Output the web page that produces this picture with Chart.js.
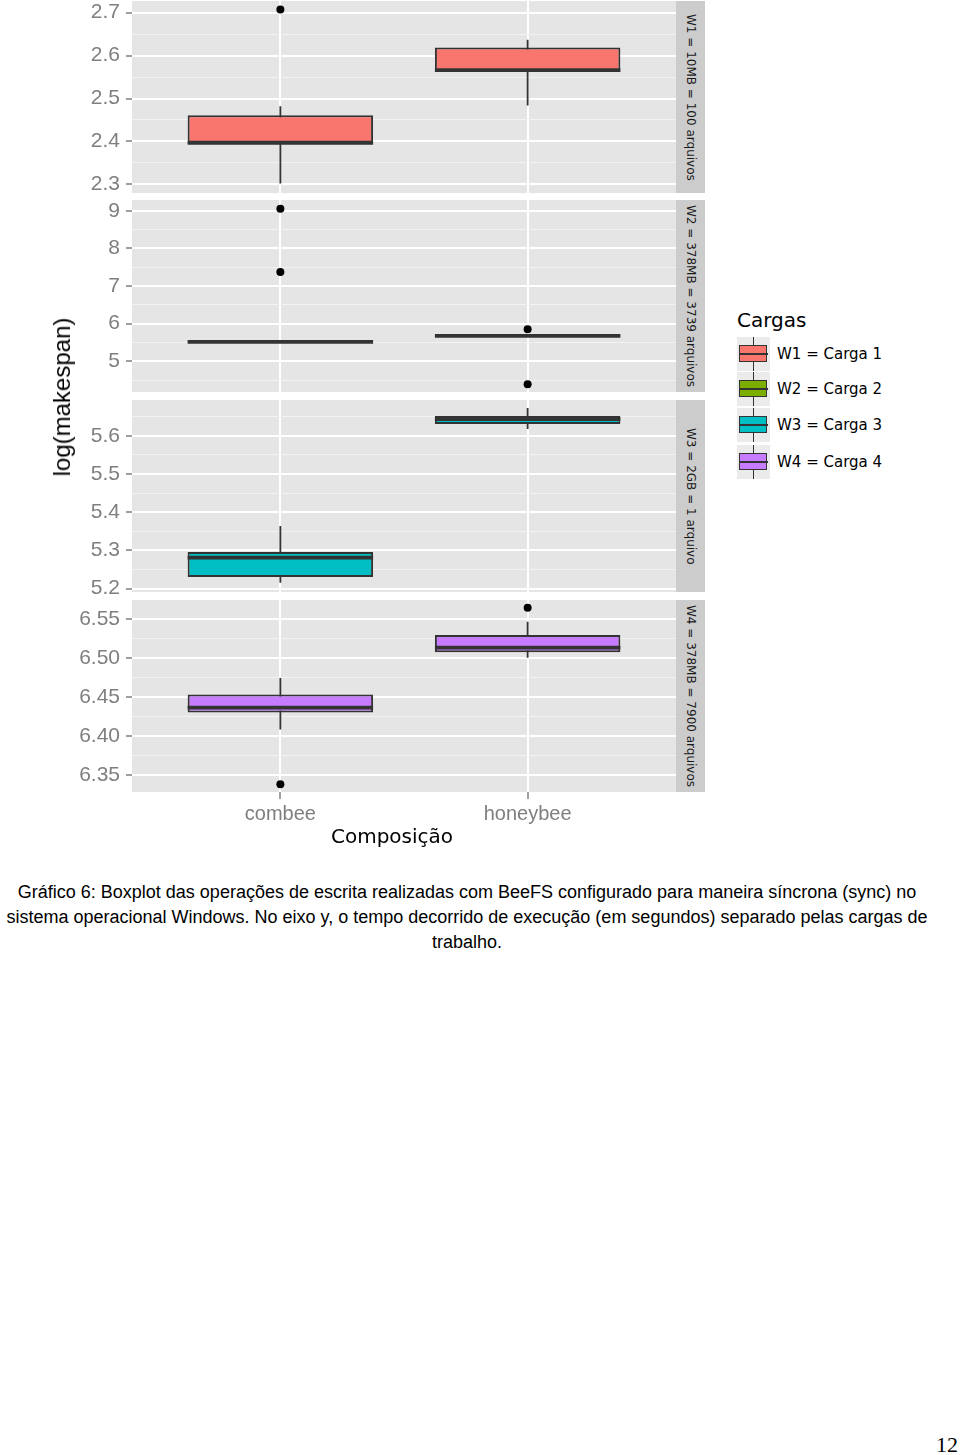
<!DOCTYPE html>
<html>
<head>
<meta charset="utf-8">
<script src="https://cdn.jsdelivr.net/npm/chart.js@4.4.0/dist/chart.umd.min.js"></script>
<style>
  body { margin: 0; width: 960px; height: 1455px; position: relative; overflow: hidden; background: #fff; font-family: "Liberation Sans", Arial, sans-serif; }
  canvas.facet { position: absolute; left: 60px; }
  .strip { position: absolute; left: 676px; width: 29px; height: 192px; background: #cccccc; color: #1a1a1a;
           font: 12px "DejaVu Sans"; writing-mode: vertical-rl; text-align: center; line-height: 29px; white-space: nowrap; }
  #ytitle { position: absolute; left: 62px; top: 397px; transform: translate(-50%, -50%) rotate(-90deg); font-size: 24px; white-space: nowrap; color: #000; }
  #xtitle { position: absolute; left: 392px; top: 836px; transform: translate(-50%, -50%); font: 20px "DejaVu Sans"; white-space: nowrap; color: #000; }
  #legend { position: absolute; left: 737px; top: 306px; font-family: "DejaVu Sans"; }
  #legend .title { font-size: 20px; height: 30px; line-height: 28px; }
  .key { position: absolute; left: 0; width: 33px; height: 34px; background: #ebebeb; }
  .key .wh { position: absolute; left: 15.5px; top: 0; width: 1.8px; height: 34px; background: #333; }
  .key .bx { position: absolute; left: 2px; top: 8px; width: 26px; height: 15px; border: 1.8px solid #333; }
  .key .md { position: absolute; left: 2px; top: 16px; width: 29px; height: 2px; background: #333; }
  .key-label { position: absolute; left: 40px; font-size: 15px; white-space: nowrap; color: #000; }
  #caption { position: absolute; left: 0; top: 880px; width: 934px; text-align: center; font-size: 18px; line-height: 25px; color: #000; white-space: nowrap; }
  #page { position: absolute; left: 936px; top: 1432px; font: 22px "Liberation Serif", serif; color: #000; }
</style>
</head>
<body>
<canvas class="facet" id="f0" width="616" height="232" style="top:-19px"></canvas>
<canvas class="facet" id="f1" width="616" height="232" style="top:180px"></canvas>
<canvas class="facet" id="f2" width="616" height="232" style="top:380px"></canvas>
<canvas class="facet" id="f3" width="616" height="246" style="top:580px"></canvas>
<div id="strips"></div>
<div id="ytitle">log(makespan)</div>
<div id="xtitle">Composição</div>
<div id="legend"><div class="title">Cargas</div></div>
<div id="caption">Gráfico 6: Boxplot das operações de escrita realizadas com BeeFS configurado para maneira síncrona (sync) no<br>sistema operacional Windows. No eixo y, o tempo decorrido de execução (em segundos) separado pelas cargas de<br>trabalho.</div>
<div id="page">12</div>
<script>
const categories = ['combee', 'honeybee'];
const facetNames = ['W1 = 10MB = 100 arquivos', 'W2 = 378MB = 3739 arquivos', 'W3 = 2GB = 1 arquivo', 'W4 = 378MB = 7900 arquivos'];
const legendLabels = ['W1 = Carga 1', 'W2 = Carga 2', 'W3 = Carga 3', 'W4 = Carga 4'];
const facetColors = ['#F8766D', '#7CAE00', '#00BFC4', '#C77CFF'];

// box statistics, one value per category [combee, honeybee]
const w1Lower = [2.302, 2.484];
const w1Q1 = [2.394, 2.562];
const w1Median = [2.397, 2.566];
const w1Q3 = [2.461, 2.619];
const w1Upper = [2.482, 2.637];
const w1Outliers = [[2.707], []];
const w1TickLabels = ['2.3', '2.4', '2.5', '2.6', '2.7'];
const w1Range = [2.280, 2.727];

const w2Lower = [5.496, 5.655];
const w2Q1 = [5.496, 5.655];
const w2Median = [5.514, 5.673];
const w2Q3 = [5.532, 5.691];
const w2Upper = [5.532, 5.691];
const w2Outliers = [[9.05, 7.37], [5.85, 4.39]];
const w2TickLabels = ['5', '6', '7', '8', '9'];
const w2Range = [4.183, 9.285];

const w3Lower = [5.215, 5.618];
const w3Q1 = [5.230, 5.631];
const w3Median = [5.281, 5.644];
const w3Q3 = [5.296, 5.652];
const w3Upper = [5.364, 5.673];
const w3Outliers = [[], []];
const w3TickLabels = ['5.2', '5.3', '5.4', '5.5', '5.6'];
const w3Range = [5.191, 5.694];

const w4Lower = [6.408, 6.500];
const w4Q1 = [6.430, 6.507];
const w4Median = [6.436, 6.513];
const w4Q3 = [6.453, 6.529];
const w4Upper = [6.474, 6.546];
const w4Outliers = [[6.338], [6.564]];
const w4TickLabels = ['6.35', '6.40', '6.45', '6.50', '6.55'];
const w4Range = [6.328, 6.574];

const facets = [
  { lower: w1Lower, q1: w1Q1, median: w1Median, q3: w1Q3, upper: w1Upper, outliers: w1Outliers, ticks: w1TickLabels, range: w1Range },
  { lower: w2Lower, q1: w2Q1, median: w2Median, q3: w2Q3, upper: w2Upper, outliers: w2Outliers, ticks: w2TickLabels, range: w2Range },
  { lower: w3Lower, q1: w3Q1, median: w3Median, q3: w3Q3, upper: w3Upper, outliers: w3Outliers, ticks: w3TickLabels, range: w3Range },
  { lower: w4Lower, q1: w4Q1, median: w4Median, q3: w4Q3, upper: w4Upper, outliers: w4Outliers, ticks: w4TickLabels, range: w4Range }
];

const boxWidth = 0.75;
const tickFont = { family: 'Liberation Sans', size: 21 };

const panelBackground = {
  id: 'panelBackground',
  beforeDraw(chart) {
    const { ctx, chartArea: a } = chart;
    ctx.save();
    ctx.fillStyle = '#e5e5e5';
    ctx.fillRect(a.left, a.top, a.width, a.height);
    ctx.restore();
  }
};

function buildFacet(canvas, f, color, isBottom) {
  const majors = f.ticks.map(parseFloat);
  const step = majors[1] - majors[0];
  const yTicks = majors.map((v, i) => ({ value: v, text: f.ticks[i] }));
  for (let i = -1; i < majors.length; i++) {
    const v = (i < 0 ? majors[0] : majors[i]) + (i < 0 ? -step / 2 : step / 2);
    if (v > f.range[0] && v < f.range[1]) yTicks.push({ value: v, minor: true });
  }
  yTicks.sort((a, b) => a.value - b.value);

  const whiskers = [], medians = [], boxes = [], outliers = [];
  categories.forEach((c, i) => {
    const x = i + 1;
    if (i > 0) { whiskers.push({ x: x - 0.5, y: null }); medians.push({ x: x - 0.5, y: null }); }
    whiskers.push({ x: x, y: f.lower[i] }, { x: x, y: f.upper[i] });
    medians.push({ x: x - boxWidth / 2, y: f.median[i] }, { x: x + boxWidth / 2, y: f.median[i] });
    boxes.push({ x: x, y: [f.q1[i], f.q3[i]] });
    f.outliers[i].forEach(v => outliers.push({ x: x, y: v }));
  });

  return new Chart(canvas, {
    type: 'bar',
    data: {
      datasets: [
        { type: 'line', data: whiskers, borderColor: '#333333', borderWidth: 1.8, pointRadius: 0, order: 3 },
        { type: 'bar', data: boxes, backgroundColor: color, borderColor: '#333333', borderWidth: 2,
          borderSkipped: false, barPercentage: boxWidth, categoryPercentage: 1, order: 2 },
        { type: 'line', data: medians, borderColor: '#333333', borderWidth: 3.8, pointRadius: 0, order: 1 },
        { type: 'scatter', data: outliers, backgroundColor: '#000000', borderWidth: 0, pointRadius: 4, order: 0 }
      ]
    },
    options: {
      responsive: false,
      animation: false,
      events: [],
      layout: { autoPadding: false, padding: { top: 20, bottom: isBottom ? 0 : 20, left: 0, right: 0 } },
      plugins: { legend: { display: false }, tooltip: { enabled: false } },
      scales: {
        x: {
          type: 'linear', min: 0.4, max: 2.6, offset: false, bounds: 'data',
          afterBuildTicks: s => { s.ticks = categories.map((c, i) => ({ value: i + 1 })); },
          afterFit: s => { if (isBottom) s.height = 34; },
          ticks: { display: isBottom, callback: v => categories[v - 1], color: '#7f7f7f', font: { family: 'Liberation Sans', size: 20 }, padding: 3, autoSkip: false, maxRotation: 0 },
          grid: { color: '#ffffff', lineWidth: 2, drawTicks: isBottom, tickLength: 7, tickColor: '#7f7f7f', tickWidth: 1.5, offset: false },
          border: { display: false }
        },
        y: {
          min: f.range[0], max: f.range[1], bounds: 'data', beginAtZero: false,
          afterBuildTicks: s => { s.ticks = yTicks.map(t => ({ ...t })); },
          afterFit: s => { s.width = 72; },
          ticks: { callback: (v, i, ts) => ts[i].minor ? '' : ts[i].text, color: '#7f7f7f', font: tickFont, padding: 6, autoSkip: false },
          grid: {
            color: c => c.tick && c.tick.minor ? '#f2f2f2' : '#ffffff',
            lineWidth: c => c.tick && c.tick.minor ? 1 : 2,
            tickColor: c => c.tick && c.tick.minor ? 'rgba(0,0,0,0)' : '#7f7f7f',
            tickLength: 6, tickWidth: 1.5
          },
          border: { display: false }
        }
      }
    },
    plugins: [panelBackground]
  });
}

const panelTops = [1, 200, 400, 600];
facets.forEach((f, i) => {
  buildFacet(document.getElementById('f' + i), f, facetColors[i], i === facets.length - 1);
  const s = document.createElement('div');
  s.className = 'strip';
  s.style.top = panelTops[i] + 'px';
  s.textContent = facetNames[i];
  document.getElementById('strips').appendChild(s);
});

// legend keys
const legend = document.getElementById('legend');
const keyCenters = [354, 389, 425, 462];
legendLabels.forEach((label, i) => {
  const top = keyCenters[i] - 306 - 17;
  const k = document.createElement('div');
  k.className = 'key';
  k.style.top = top + 'px';
  k.innerHTML = '<div class="wh"></div><div class="bx" style="background:' + facetColors[i] + '"></div><div class="md"></div>';
  legend.appendChild(k);
  const t = document.createElement('div');
  t.className = 'key-label';
  t.style.top = (top + 8) + 'px';
  t.textContent = label;
  legend.appendChild(t);
});
</script>
</body>
</html>
